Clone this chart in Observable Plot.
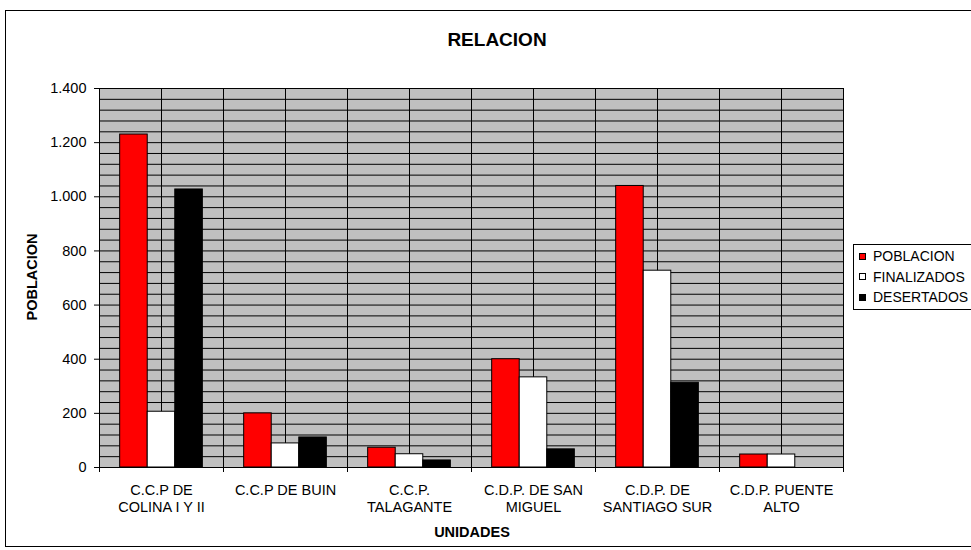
<!DOCTYPE html>
<html><head><meta charset="utf-8">
<script src="https://cdn.jsdelivr.net/npm/d3@7"></script>
<script src="https://cdn.jsdelivr.net/npm/@observablehq/plot@0.6"></script>
<style>
html,body{margin:0;padding:0;background:#fff;overflow:hidden;width:971px;height:550px}
#wrap{position:relative;width:971px;height:550px;overflow:hidden;font-family:"Liberation Sans",Arial,sans-serif;color:#000}
#wrap svg{position:absolute;left:0;top:0}
.ov{position:absolute;white-space:nowrap;line-height:1}
#border{position:absolute;left:5px;top:10px;width:1200px;height:537px;border:1px solid #000;box-sizing:border-box}
#title{left:497px;top:30px;transform:translateX(-50%);font-weight:bold;font-size:19px}
#ytitle{left:32px;top:277px;transform:translate(-50%,-50%) rotate(-90deg);font-weight:bold;font-size:14.5px}
#xtitle{left:472px;top:525px;transform:translateX(-50%);font-weight:bold;font-size:14.5px}
#legend{position:absolute;left:853px;top:244px;width:160px;height:66px;border:1px solid #000;box-sizing:border-box;background:#fff;font-size:14px}
.item{position:absolute;left:5px;height:16px;display:flex;align-items:center}
.sw{width:7px;height:7px;border:1px solid #000;margin-right:7px;box-sizing:border-box}
</style></head><body><div id="wrap"><div id="border"></div></div>
<script>
const categories = ["C.C.P DE COLINA I Y II", "C.C.P DE BUIN", "C.C.P. TALAGANTE", "C.D.P. DE SAN MIGUEL", "C.D.P. DE SANTIAGO SUR", "C.D.P. PUENTE ALTO"];
const tickLabels = ["C.C.P DE\nCOLINA I Y II", "C.C.P DE BUIN", "C.C.P.\nTALAGANTE", "C.D.P. DE SAN\nMIGUEL", "C.D.P. DE\nSANTIAGO SUR", "C.D.P. PUENTE\nALTO"];
const series = ["POBLACION", "FINALIZADOS", "DESERTADOS"];
const seriesColors = ["#ff0000", "#ffffff", "#000000"];
const poblacion = [1230, 200, 73, 400, 1040, 48];
const finalizados = [206, 89, 49, 333, 727, 48];
const desertados = [1027, 111, 26, 67, 313, 0];
const yTicks = [0, 200, 400, 600, 800, 1000, 1200, 1400];
const gridValues = d3.range(0, 1401, 40);
const title = "RELACION";
const yTitle = "POBLACION";
const xTitle = "UNIDADES";

const values = [poblacion, finalizados, desertados];
const rows = categories.flatMap((c, i) => series.map((s, j) => ({category: c, series: s, value: values[j][i]})));
const fmt = d3.formatLocale({decimal: ",", thousands: ".", grouping: [3], currency: ["$", ""]}).format(",d");

function edgeTicks(index, scales) {
  const [x0, x1] = scales.x.range();
  const y0 = scales.y(0);
  const g = d3.create("svg:g").attr("stroke", "#000").attr("shape-rendering", "crispEdges");
  for (const x of [x0, x1]) g.append("line").attr("x1", x).attr("x2", x).attr("y1", y0).attr("y2", y0 + 5);
  return g.node();
}

const plot = Plot.plot({
  width: 971, height: 550,
  marginLeft: 99, marginRight: 128, marginTop: 88, marginBottom: 83,
  style: {fontFamily: '"Liberation Sans", Arial, sans-serif', fontSize: "14.5px", background: "transparent", color: "#000"},
  fx: {domain: categories, padding: 0, round: false, label: null, axis: null},
  x: {domain: series, paddingInner: 0, paddingOuter: 0.75, round: false, axis: null},
  y: {domain: [0, 1400], axis: null},
  color: {domain: series, range: seriesColors},
  marks: [
    Plot.frame({fill: "#c0c0c0", stroke: "#000"}),
    Plot.ruleY(gridValues, {stroke: "#000", strokeWidth: 1}),
    Plot.ruleX(["FINALIZADOS"], {stroke: "#000"}),
    Plot.barY(rows, {fx: "category", x: "series", y: "value", fill: "series", stroke: "#000", strokeWidth: 1, inset: 0}),
    edgeTicks,
    Plot.axisY({ticks: yTicks, tickFormat: fmt, tickSize: 5, tickPadding: 8, label: null, fontSize: 14.5}),
    Plot.axisFx({anchor: "bottom", tickSize: 0, tickPadding: 15, tickFormat: d => tickLabels[categories.indexOf(d)], lineHeight: 1.2, label: null, fontSize: 14.5})
  ]
});
const wrap = document.getElementById("wrap");
wrap.appendChild(plot);

function addText(id, txt) {
  const d = document.createElement("div");
  d.className = "ov"; d.id = id; d.textContent = txt;
  wrap.appendChild(d);
}
addText("title", title);
addText("ytitle", yTitle);
addText("xtitle", xTitle);

const legend = document.createElement("div");
legend.id = "legend";
series.forEach((s, i) => {
  const it = document.createElement("div");
  it.className = "item";
  it.style.top = (3 + i * 20.5) + "px";
  const sw = document.createElement("div");
  sw.className = "sw"; sw.style.background = seriesColors[i];
  const t = document.createElement("span"); t.textContent = s;
  it.appendChild(sw); it.appendChild(t);
  legend.appendChild(it);
});
wrap.appendChild(legend);
</script>
</body></html>
